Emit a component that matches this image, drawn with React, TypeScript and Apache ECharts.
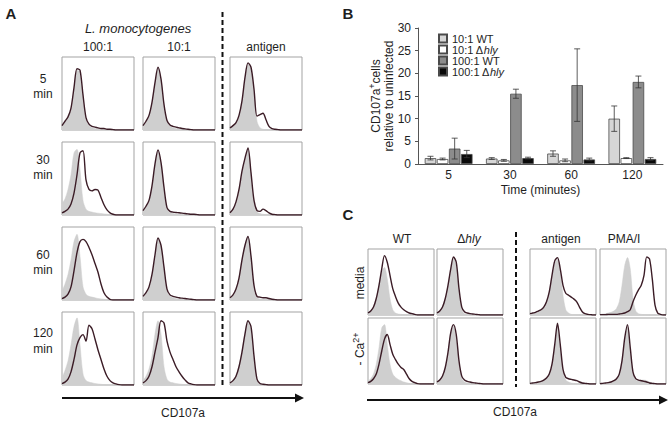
import React, { useEffect, useRef } from "react";
import * as echarts from "echarts";

// ---------- Panel B data ----------
const timeCats = ["5", "30", "60", "120"];
const barNames = ["10:1 WT", "10:1 Δhly", "100:1 WT", "100:1 Δhly"];
const wt10 = [1.3, 1.2, 2.3, 10.0];
const wt10Err = [0.4, 0.2, 0.6, 2.8];
const hly10 = [1.1, 0.8, 0.8, 1.3];
const hly10Err = [0.2, 0.2, 0.3, 0.1];
const wt100 = [3.4, 15.5, 17.4, 18.1];
const wt100Err = [2.3, 1.0, 8.0, 1.3];
const hly100 = [2.2, 1.3, 1.0, 1.1];
const hly100Err = [0.8, 0.2, 0.3, 0.3];

// ---------- Panel A histograms (25 bins each) ----------
const a5_100_line = [6,12,18,30,58,84,82,48,17,8,5,4,3,2,2,1,1,0.5,0,0,0,0,0,0,0];
const a5_100_ctrl = [5,11,17,28,56,82,80,45,14,6,3,2,1.5,1,0.5,0,0,0,0,0,0,0,0,0,0];
const a5_10_line = [6,12,20,38,65,86,70,35,13,7,5,4,3,2,1.5,1,0.5,0,0,0,0,0,0,0,0];
const a5_10_ctrl = [5,11,19,36,63,84,68,32,11,5,3,2,1.5,1,0.5,0,0,0,0,0,0,0,0,0,0];
const a5_ag_line = [3,6,10,20,40,72,92,86,56,19,21,23,14,5,2,1,0.5,0,0,0,0,0,0,0,0];
const a5_ag_ctrl = [3,6,10,19,38,70,90,84,50,12,3,1,0.5,0,0,0,0,0,0,0,0,0,0,0,0];

const a30_100_line = [3,5,8,15,30,55,85,88,48,35,33,35,34,24,14,7,3,1,0,0,0,0,0,0,0];
const a30_100_ctrl = [16,22,35,55,85,90,62,20,8,5,4,3,2.5,2,1.5,1,0.5,0,0,0,0,0,0,0,0];
const a30_10_line = [6,12,20,40,70,89,72,38,10,5,4,3.5,3,2.5,2,1.5,1,1,0.5,0,0,0,0,0,0];
const a30_10_ctrl = [5,11,19,38,68,87,70,35,8,3,2,1.5,1,0.5,0,0,0,0,0,0,0,0,0,0,0];
const a30_ag_line = [3,8,18,35,60,78,92,58,20,6,5,8,6,3,1,0.5,0,0,0,0,0,0,0,0,0];
const a30_ag_ctrl = [3,8,17,34,58,77,90,55,17,4,2,1,0.5,0,0,0,0,0,0,0,0,0,0,0,0];

const a60_100_line = [2,4,8,18,40,65,80,83,80,72,62,50,38,22,10,4,1,0,0,0,0,0,0,0,0];
const a60_100_ctrl = [12,22,35,55,80,90,60,18,8,5,4,3,2,1.5,1,0.5,0,0,0,0,0,0,0,0,0];
const a60_10_line = [5,10,18,35,62,85,75,45,15,7,5,4,3,2.5,2,1.5,1,0.5,0,0,0,0,0,0,0];
const a60_10_ctrl = [4,9,17,33,60,83,73,42,12,5,3,2,1,0.5,0,0,0,0,0,0,0,0,0,0,0];
const a60_ag_line = [3,7,15,30,55,75,87,60,20,5,4,3,3,2,1,0.5,0,0,0,0,0,0,0,0,0];
const a60_ag_ctrl = [3,7,15,30,55,75,88,58,17,3,1.5,1,0.5,0,0,0,0,0,0,0,0,0,0,0,0];

const a120_100_line = [2,4,8,18,35,55,65,69,60,82,77,63,48,35,22,12,6,3,1.5,0.5,0,0,0,0,0];
const a120_100_ctrl = [10,20,33,55,80,92,55,15,6,4,3,2,1.5,1,0.5,0,0,0,0,0,0,0,0,0,0];
const a120_10_line = [3,6,12,25,45,65,88,85,60,45,35,25,18,12,7,3,1.5,0.5,0,0,0,0,0,0,0];
const a120_10_ctrl = [6,12,22,40,70,88,70,25,8,4,3,2,1.5,1,0.5,0,0,0,0,0,0,0,0,0,0];
const a120_ag_line = [3,6,12,25,45,70,88,80,40,8,2,1,0.5,0,0,0,0,0,0,0,0,0,0,0,0];
const a120_ag_ctrl = [3,7,13,27,48,72,86,75,35,5,1,0.5,0,0,0,0,0,0,0,0,0,0,0,0,0];

// ---------- Panel C histograms ----------
const cm_wt_line = [3,6,12,25,45,70,90,80,60,40,28,18,12,8,5,3,2,1,0,0,0,0,0,0,0];
const cm_wt_ctrl = [3,6,12,25,45,65,72,55,25,8,3,1.5,1,0.5,0,0,0,0,0,0,0,0,0,0,0];
const cm_hly_line = [3,6,12,25,45,70,88,80,40,12,5,3,2,1.5,1,0.5,0,0,0,0,0,0,0,0,0];
const cm_hly_ctrl = [3,6,12,25,44,68,86,76,35,8,2,1,0.5,0,0,0,0,0,0,0,0,0,0,0,0];
const cm_ag_line = [2,3,4,6,8,12,20,35,60,82,87,70,45,33,30,27,24,20,12,5,2,1,0.5,0,0];
const cm_ag_ctrl = [2,3,4,6,8,12,20,35,58,78,84,65,30,8,3,1,0.5,0,0,0,0,0,0,0,0];
const cm_pma_line = [0.5,0.5,0.5,1,1,1,1,1.5,2,3,5,8,20,30,38,45,60,88,85,55,15,3,1,0,0];
const cm_pma_ctrl = [1,1.5,2,3,4,6,10,20,45,75,87,70,25,6,2,1,0.5,0,0,0,0,0,0,0,0];

const cc_wt_line = [2,4,8,15,30,50,68,75,60,45,37,30,25,22,15,8,4,2,0.5,0,0,0,0,0,0];
const cc_wt_ctrl = [4,8,15,30,55,85,90,60,30,15,10,7,5,3,2,1,0.5,0,0,0,0,0,0,0,0];
const cc_hly_line = [3,6,12,25,48,78,90,75,35,12,6,4,3,2,1.5,1,0.5,0,0,0,0,0,0,0,0];
const cc_hly_ctrl = [3,6,12,25,46,76,88,72,32,9,3,1.5,1,0.5,0,0,0,0,0,0,0,0,0,0,0];
const cc_ag_line = [1,1.5,2,3,4,6,9,15,30,60,92,60,22,10,8,7,6,5,3,1.5,1,0.5,0,0,0];
const cc_ag_ctrl = [1,1.5,2,3,4,6,9,15,30,58,88,55,18,6,3,1.5,1,0.5,0,0,0,0,0,0,0];
const cc_pma_line = [0.5,1,1.5,2,3,5,8,15,35,70,90,55,18,8,6,5,4,3,1.5,1,0.5,0,0,0,0];
const cc_pma_ctrl = [0.5,1,1.5,2,3,5,8,15,35,68,88,52,15,6,5,6,6,5,3,1.5,0.5,0,0,0,0];

const aRowLabels = ["5", "30", "60", "120"];

const FONT = '"Liberation Sans", Arial, sans-serif';
const TXT = "#1e1e1e";
const LINE_C = "#3b1c26";
const CTRL_C = "#cfcfcf";

export default function App() {
  const ref = useRef<HTMLDivElement>(null);
  useEffect(() => {
    if (!ref.current) return;
    const chart = echarts.init(ref.current, undefined, { renderer: "svg" });

    const aLines = [
      [a5_100_line, a5_10_line, a5_ag_line],
      [a30_100_line, a30_10_line, a30_ag_line],
      [a60_100_line, a60_10_line, a60_ag_line],
      [a120_100_line, a120_10_line, a120_ag_line],
    ];
    const aCtrls = [
      [a5_100_ctrl, a5_10_ctrl, a5_ag_ctrl],
      [a30_100_ctrl, a30_10_ctrl, a30_ag_ctrl],
      [a60_100_ctrl, a60_10_ctrl, a60_ag_ctrl],
      [a120_100_ctrl, a120_10_ctrl, a120_ag_ctrl],
    ];
    const cLines = [
      [cm_wt_line, cm_hly_line, cm_ag_line, cm_pma_line],
      [cc_wt_line, cc_hly_line, cc_ag_line, cc_pma_line],
    ];
    const cCtrls = [
      [cm_wt_ctrl, cm_hly_ctrl, cm_ag_ctrl, cm_pma_ctrl],
      [cc_wt_ctrl, cc_hly_ctrl, cc_ag_ctrl, cc_pma_ctrl],
    ];

    const A_COLS = [62, 143, 230];
    const A_ROWS = [57, 142, 227, 312];
    const A_W = 72, A_H = 73;
    const C_COLS = [368, 437, 530, 600];
    const C_ROWS = [249, 318];
    const C_W = 66, C_H = 66;

    const panels: any[] = [];
    A_ROWS.forEach((t, r) =>
      A_COLS.forEach((l, c) =>
        panels.push({ left: l, top: t, w: A_W, h: A_H, line: aLines[r][c], ctrl: aCtrls[r][c] })
      )
    );
    C_ROWS.forEach((t, r) =>
      C_COLS.forEach((l, c) =>
        panels.push({ left: l, top: t, w: C_W, h: C_H, line: cLines[r][c], ctrl: cCtrls[r][c] })
      )
    );

    const grids: any[] = [{ left: 418, top: 28, width: 245, height: 136 }];
    const xAxes: any[] = [
      {
        type: "category",
        gridIndex: 0,
        data: timeCats,
        axisLine: { lineStyle: { color: "#555", width: 1 } },
        axisTick: { length: 3, lineStyle: { color: "#555" } },
        axisLabel: { fontSize: 12, color: TXT, fontFamily: FONT, margin: 5 },
        name: "Time (minutes)",
        nameLocation: "middle",
        nameGap: 20,
        nameTextStyle: { fontSize: 12, color: TXT, fontFamily: FONT },
      },
    ];
    const yAxes: any[] = [
      {
        type: "value",
        gridIndex: 0,
        min: 0,
        max: 30,
        interval: 5,
        axisLine: { show: true, lineStyle: { color: "#555", width: 1 } },
        axisTick: { show: true, length: 3, lineStyle: { color: "#555" } },
        splitLine: { show: false },
        axisLabel: { show: true, fontSize: 12, color: TXT, fontFamily: FONT, margin: 7 },
      },
    ];

    const barColors = ["#d6d6d6", "#ffffff", "#8c8c8c", "#0a0a0a"];
    const barVals = [wt10, hly10, wt100, hly100];
    const barErrs = [wt10Err, hly10Err, wt100Err, hly100Err];
    const CAT_GAP = 0.22, BAR_GAP = 0.05;

    const series: any[] = [];
    barVals.forEach((vals, k) => {
      series.push({
        type: "bar",
        name: barNames[k],
        xAxisIndex: 0,
        yAxisIndex: 0,
        data: vals,
        barCategoryGap: CAT_GAP * 100 + "%",
        barGap: BAR_GAP * 100 + "%",
        itemStyle: { color: barColors[k], borderColor: "#4a4a4a", borderWidth: 0.8 },
      });
    });
    barVals.forEach((vals, k) => {
      series.push({
        type: "custom",
        xAxisIndex: 0,
        yAxisIndex: 0,
        z: 5,
        data: vals.map((v, i) => [i, v - barErrs[k][i], v + barErrs[k][i]]),
        encode: { x: 0, y: [1, 2] },
        renderItem: (params: any, api: any) => {
          const ci = api.value(0);
          const lo = api.coord([ci, api.value(1)]);
          const hi = api.coord([ci, api.value(2)]);
          const catW = api.size([1, 0])[0];
          const total = catW * (1 - CAT_GAP);
          const bw = total / (4 + 3 * BAR_GAP);
          const x = lo[0] - total / 2 + k * bw * (1 + BAR_GAP) + bw / 2;
          const st = { stroke: "#333", lineWidth: 0.8 };
          return {
            type: "group",
            children: [
              { type: "line", shape: { x1: x, y1: lo[1], x2: x, y2: hi[1] }, style: st },
              { type: "line", shape: { x1: x - 3, y1: lo[1], x2: x + 3, y2: lo[1] }, style: st },
              { type: "line", shape: { x1: x - 3, y1: hi[1], x2: x + 3, y2: hi[1] }, style: st },
            ],
          };
        },
      });
    });

    panels.forEach((p, idx) => {
      const gi = idx + 1;
      grids.push({
        left: p.left,
        top: p.top,
        width: p.w,
        height: p.h,
        show: true,
        borderColor: "#a3a3a3",
        borderWidth: 1,
        backgroundColor: "#fff",
      });
      xAxes.push({ type: "value", gridIndex: gi, min: 0, max: 24, show: false });
      yAxes.push({ type: "value", gridIndex: gi, min: 0, max: 100, show: false });
      series.push({
        type: "line",
        xAxisIndex: gi,
        yAxisIndex: gi,
        data: p.ctrl.map((v: number, i: number) => [i, v]),
        symbol: "none",
        smooth: 0.3,
        lineStyle: { width: 0.5, color: CTRL_C },
        areaStyle: { color: CTRL_C, opacity: 1 },
        silent: true,
      });
      series.push({
        type: "line",
        xAxisIndex: gi,
        yAxisIndex: gi,
        data: p.line.map((v: number, i: number) => [i, v]),
        symbol: "none",
        smooth: 0.3,
        lineStyle: { width: 1.4, color: LINE_C },
        silent: true,
      });
    });

    const txt = (text: string, x: number, y: number, extra: any = {}) => ({
      type: "text",
      x,
      y,
      style: {
        text,
        fill: TXT,
        fontSize: 12,
        fontFamily: FONT,
        align: "center",
        verticalAlign: "middle",
        ...extra,
      },
    });
    const rot = (text: string, x: number, y: number, extra: any = {}) => ({
      type: "text",
      x,
      y,
      rotation: Math.PI / 2,
      style: {
        text,
        fill: TXT,
        fontSize: 12,
        fontFamily: FONT,
        align: "center",
        verticalAlign: "middle",
        ...extra,
      },
    });
    const dashed = (x: number, y1: number, y2: number) => ({
      type: "line",
      shape: { x1: x, y1, x2: x, y2 },
      style: { stroke: "#111", lineWidth: 2, lineDash: [5, 3] },
    });
    const arrow = (x1: number, x2: number, y: number) => [
      { type: "line", shape: { x1, y1: y, x2: x2 - 6, y2: y }, style: { stroke: "#111", lineWidth: 2 } },
      {
        type: "polygon",
        shape: { points: [[x2 - 9, y - 4.5], [x2, y], [x2 - 9, y + 4.5]] },
        style: { fill: "#111" },
      },
    ];

    const rowLabelY = [[79, 94], [160, 175], [255, 270], [333, 349]];
    const graphic: any[] = [
      txt("A", 11, 13, { fontSize: 15, fontWeight: "bold" }),
      txt("B", 348, 13, { fontSize: 15, fontWeight: "bold" }),
      txt("C", 348, 214, { fontSize: 15, fontWeight: "bold" }),
      txt("L. monocytogenes", 138, 28, { fontStyle: "italic", fontSize: 13 }),
      txt("100:1", 98, 47),
      txt("10:1", 179, 47),
      txt("antigen", 266, 47),
      ...aRowLabels.flatMap((lab, r) => [
        txt(lab, 43, rowLabelY[r][0]),
        txt("min", 43, rowLabelY[r][1]),
      ]),
      dashed(222.5, 12, 388),
      ...arrow(62, 304, 398),
      txt("CD107a", 183, 413),
      rot("CD107a{sup|+}cells", 376, 96, {
        rich: { sup: { fontSize: 9, fontFamily: FONT, fill: TXT, padding: [0, 0, 8, 0] } },
      }),
      rot("relative to uninfected", 389, 96),
      txt("WT", 402, 239),
      txt("Δ{i|hly}", 469, 239, {
        rich: { i: { fontSize: 12, fontFamily: FONT, fontStyle: "italic", fill: TXT } },
      }),
      txt("antigen", 561, 239),
      txt("PMA/I", 624, 239),
      rot("media", 360, 283),
      rot("- Ca{sup|2+}", 360, 349, {
        rich: { sup: { fontSize: 9, fontFamily: FONT, fill: TXT, padding: [0, 0, 8, 0] } },
      }),
      dashed(516, 232, 387),
      ...arrow(367, 668, 400),
      txt("CD107a", 515, 412),
    ];

    chart.setOption({
      animation: false,
      backgroundColor: "#fff",
      grid: grids,
      xAxis: xAxes,
      yAxis: yAxes,
      legend: {
        data: barNames,
        orient: "vertical",
        left: 433,
        top: 28,
        itemWidth: 8,
        itemHeight: 8,
        itemGap: 0,
        icon: "rect",
        textStyle: {
          fontSize: 11,
          lineHeight: 10,
          color: TXT,
          fontFamily: FONT,
          rich: { i: { fontSize: 11, lineHeight: 10, fontStyle: "italic", color: TXT, fontFamily: FONT } },
        },
        formatter: (n: string) => n.replace("hly", "{i|hly}"),
      },
      series,
      graphic,
    });
    return () => chart.dispose();
  }, []);
  return <div ref={ref} style={{ position: "fixed", left: 0, top: 0, width: 672, height: 421 }} />;
}
